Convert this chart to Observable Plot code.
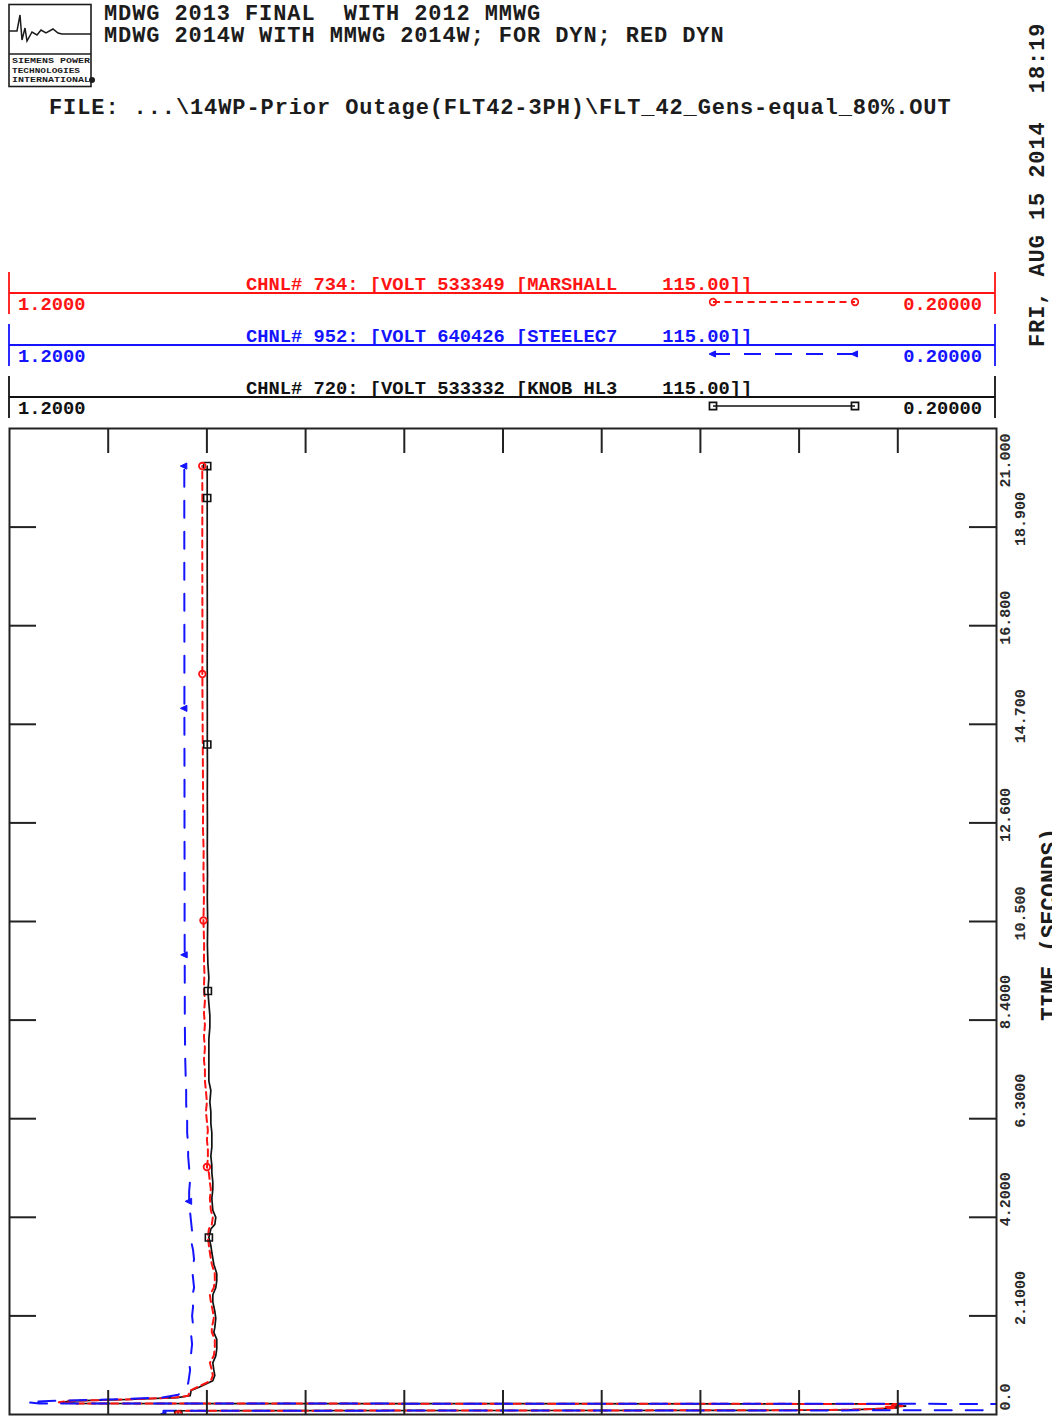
<!DOCTYPE html>
<html><head><meta charset="utf-8">
<script src="https://cdn.jsdelivr.net/npm/d3@7"></script>
<script src="https://cdn.jsdelivr.net/npm/@observablehq/plot@0.6"></script>
<style>
html,body{margin:0;padding:0;width:1052px;height:1416px;overflow:hidden;background:#fff;}
#plot{position:absolute;left:0;top:420px;}
#head{position:absolute;left:0;top:0;}
svg text{white-space:pre;}
</style></head><body>
<div id="plot"></div>
<svg id="head" width="1052" height="428"></svg>
<script>
// ---------------- data ----------------
const TITLE1 = "MDWG 2013 FINAL  WITH 2012 MMWG";
const TITLE2 = "MDWG 2014W WITH MMWG 2014W; FOR DYN; RED DYN";
const FILE_LINE = "FILE: ...\\14WP-Prior Outage(FLT42-3PH)\\FLT_42_Gens-equal_80%.OUT";
const DATE_LINE = "FRI, AUG 15 2014  18:19";
const Y_LABEL = "TIME (SECONDS)";

const channels = ["734", "952", "720"];
const channelText = [
  "CHNL# 734: [VOLT 533349 [MARSHALL    115.00]]",
  "CHNL# 952: [VOLT 640426 [STEELEC7    115.00]]",
  "CHNL# 720: [VOLT 533332 [KNOB HL3    115.00]]"
];
const scaleMaxLabel = "1.2000";
const scaleMinLabel = "0.20000";

const voltTicks = [1.1, 1.0, 0.9, 0.8, 0.7, 0.6, 0.5, 0.4, 0.3];
const timeTicks = [0, 2.1, 4.2, 6.3, 8.4, 10.5, 12.6, 14.7, 16.8, 18.9, 21.0];
const timeLabels = ["0.0", "2.1000", "4.2000", "6.3000", "8.4000", "10.500", "12.600", "14.700", "16.800", "18.900", "21.000"];

// CHNL 720 KNOB HL3 (black, solid)
const blackT = [0, 0.08, 0.09, 0.10, 0.12, 0.14, 0.16, 0.18, 0.20, 0.225, 0.235, 0.26, 0.29, 0.32, 0.36, 0.40, 0.51, 0.58, 0.65, 0.72, 0.83, 0.95, 1.10, 1.25, 1.40, 1.60, 1.75, 1.85, 2.05, 2.20, 2.40, 2.55, 2.70, 2.85, 3.00, 3.20, 3.45, 3.60, 3.77, 3.95, 4.05, 4.20, 4.35, 4.60, 4.80, 4.95, 5.15, 5.30, 5.50, 5.70, 5.85, 6.00, 6.20, 6.45, 6.65, 6.90, 7.10, 7.35, 7.55, 7.75, 8.00, 8.25, 8.50, 8.75, 9.02, 9.30, 9.60, 10.0, 10.5, 11.0, 11.5, 12.0, 12.6, 13.2, 13.8, 14.27, 15.0, 16.0, 17.0, 18.0, 19.0, 19.52, 20.2];
const blackV = [1.029, 1.029, 0.415, 0.350, 0.318, 0.300, 0.310, 0.292, 0.303, 0.296, 1.132, 1.146, 1.138, 1.080, 1.030, 1.017, 1.016, 1.008, 1.001, 0.994, 0.992, 0.993, 0.994, 0.991, 0.990, 0.990, 0.993, 0.992, 0.991, 0.992, 0.994, 0.994, 0.991, 0.990, 0.990, 0.993, 0.995, 0.996, 0.998, 0.996, 0.992, 0.991, 0.994, 0.995, 0.994, 0.994, 0.995, 0.995, 0.996, 0.995, 0.995, 0.995, 0.996, 0.996, 0.997, 0.996, 0.998, 0.998, 0.998, 0.998, 0.998, 0.997, 0.997, 0.998, 0.999, 0.998, 0.999, 0.9995, 0.9992, 0.9996, 0.9994, 0.9996, 0.9995, 0.9996, 0.9995, 0.9996, 0.9996, 0.9997, 0.9996, 0.9997, 0.9997, 0.9997, 0.9997];

// CHNL 734 MARSHALL (red, short dash)
const redT = [0, 0.08, 0.09, 0.10, 0.12, 0.14, 0.16, 0.18, 0.20, 0.225, 0.235, 0.26, 0.29, 0.32, 0.36, 0.40, 0.51, 0.58, 0.65, 0.72, 0.83, 0.95, 1.10, 1.25, 1.40, 1.60, 1.75, 1.85, 2.05, 2.20, 2.40, 2.55, 2.70, 2.85, 3.00, 3.20, 3.45, 3.60, 3.77, 3.95, 4.05, 4.20, 4.35, 4.60, 4.80, 4.95, 5.15, 5.27, 5.45, 5.65, 5.85, 6.05, 6.25, 6.45, 6.65, 6.90, 7.10, 7.35, 7.55, 7.80, 8.05, 8.30, 8.55, 8.80, 9.10, 9.40, 9.70, 10.0, 10.52, 11.0, 11.5, 12.0, 12.5, 13.0, 13.6, 14.3, 15.0, 15.77, 16.5, 17.5, 18.5, 19.5, 20.2];
const redV = [1.029, 1.029, 0.420, 0.352, 0.322, 0.302, 0.314, 0.295, 0.306, 0.298, 1.135, 1.150, 1.141, 1.083, 1.033, 1.019, 1.017, 1.010, 1.003, 0.996, 0.994, 0.995, 0.997, 0.993, 0.992, 0.992, 0.995, 0.995, 0.993, 0.994, 0.996, 0.997, 0.993, 0.992, 0.992, 0.995, 0.997, 0.998, 0.999, 0.998, 0.995, 0.994, 0.996, 0.997, 0.996, 0.997, 0.998, 1.000, 0.999, 0.999, 1.000, 0.999, 1.000, 1.001, 1.000, 1.001, 1.002, 1.002, 1.003, 1.002, 1.003, 1.002, 1.003, 1.002, 1.003, 1.0025, 1.003, 1.0028, 1.0035, 1.003, 1.0035, 1.0033, 1.004, 1.0038, 1.004, 1.0042, 1.0044, 1.0046, 1.0045, 1.0046, 1.0047, 1.0046, 1.0047];

// CHNL 952 STEELEC7 (blue, long dash)
const blueT = [0, 0.08, 0.09, 0.11, 0.14, 0.17, 0.20, 0.225, 0.235, 0.26, 0.29, 0.32, 0.36, 0.42, 0.50, 0.58, 0.66, 0.80, 0.95, 1.10, 1.30, 1.50, 1.70, 1.90, 2.10, 2.30, 2.50, 2.70, 2.90, 3.10, 3.30, 3.50, 3.70, 3.90, 4.10, 4.30, 4.54, 4.75, 5.00, 5.25, 5.50, 5.75, 6.00, 6.30, 6.60, 6.90, 7.20, 7.60, 8.00, 8.50, 9.00, 9.79, 10.5, 11.5, 12.5, 13.5, 15.04, 16.5, 18.0, 19.5, 20.2];
const blueV = [1.044, 1.044, 0.160, 0.120, 0.110, 0.125, 0.115, 0.120, 1.170, 1.182, 1.160, 1.100, 1.045, 1.029, 1.025, 1.022, 1.019, 1.018, 1.017, 1.018, 1.016, 1.015, 1.016, 1.014, 1.015, 1.014, 1.015, 1.013, 1.014, 1.015, 1.013, 1.014, 1.016, 1.015, 1.016, 1.017, 1.018, 1.018, 1.017, 1.018, 1.019, 1.019, 1.020, 1.020, 1.021, 1.021, 1.0215, 1.022, 1.0222, 1.0224, 1.0224, 1.0225, 1.0226, 1.0226, 1.0227, 1.0227, 1.0228, 1.0228, 1.0229, 1.0229, 1.0229];

// symbol markers placed along each curve
const redMarkT = [0, 5.27, 10.52, 15.77, 20.2];
const redMarkV = [1.029, 1.000, 1.0035, 1.0046, 1.0047];
const blackMarkT = [0, 3.77, 9.02, 14.27, 19.52, 20.2];
const blackMarkV = [1.029, 0.998, 0.999, 0.9996, 0.9997, 0.9997];
const blueMarkT = [0, 4.54, 9.79, 15.04, 20.2];
const blueMarkV = [1.044, 1.018, 1.0225, 1.0228, 1.0229];

// ---------------- styles ----------------
const RED = "#ff1414", BLUE = "#1414ff", BLACK = "#111";
const INK = "#1c1c1c";
const FONT = "'Liberation Mono', 'DejaVu Sans Mono', monospace";
const RED_DASH = "7,4.5", BLUE_DASH = "17,14";

const rows = (T, V) => T.map((t, i) => ({t, v: V[i]}));

const triLeft = {
  draw(ctx, size) {
    const s = Math.sqrt(size / Math.PI);
    ctx.moveTo(-s * 1.1, 0);
    ctx.lineTo(s * 0.7, -s * 0.85);
    ctx.lineTo(s * 0.7, s * 0.85);
    ctx.closePath();
  }
};

// ---------------- plot ----------------
const labelRows = timeTicks.map((t, i) => ({t, label: timeLabels[i], i}));
const interiorTime = timeTicks.slice(1, -1);
const textStyle = {fontFamily: FONT, fontSize: 15, fontWeight: "bold", fill: "#2a2a2a", rotate: -90, lineAnchor: "middle", frameAnchor: "right"};
function labelMark(filter, dx, dy, anchor) {
  return Plot.text(labelRows.filter(filter), {y: "t", text: "label", dx, dy, textAnchor: anchor, ...textStyle});
}
const last = timeTicks.length - 1;

const chart = Plot.plot({
  width: 1052, height: 996,
  marginTop: 8, marginBottom: 2, marginLeft: 9, marginRight: 56,
  x: {domain: [1.2, 0.2], axis: null},
  y: {domain: [0, 21], axis: null},
  style: {background: "transparent", overflow: "visible"},
  marks: [
    Plot.line(rows(blackT, blackV), {x: "v", y: "t", stroke: BLACK, strokeWidth: 1.7, clip: true}),
    Plot.line(rows(redT, redV), {x: "v", y: "t", stroke: RED, strokeWidth: 2, strokeDasharray: RED_DASH, clip: true}),
    Plot.line(rows(blueT, blueV), {x: "v", y: "t", stroke: BLUE, strokeWidth: 2, strokeDasharray: BLUE_DASH, clip: true}),
    Plot.dot(rows(blackMarkT, blackMarkV), {x: "v", y: "t", symbol: "square", r: 4, stroke: BLACK, strokeWidth: 1.6, fill: "none", clip: true}),
    Plot.dot(rows(redMarkT, redMarkV), {x: "v", y: "t", symbol: "circle", r: 3.3, stroke: RED, strokeWidth: 1.8, fill: "none", clip: true}),
    Plot.dot(rows(blueMarkT, blueMarkV), {x: "v", y: "t", symbol: triLeft, r: 3.6, stroke: BLUE, strokeWidth: 1, fill: BLUE, clip: true}),
    Plot.frame({stroke: "#222", strokeWidth: 2}),
    Plot.tickX(voltTicks, {x: d => d, insetBottom: 961, stroke: "#222", strokeWidth: 2}),
    Plot.tickX(voltTicks, {x: d => d, insetTop: 962, stroke: "#222", strokeWidth: 2}),
    Plot.tickY(interiorTime, {y: d => d, insetRight: 960, stroke: "#222", strokeWidth: 2}),
    Plot.tickY(interiorTime, {y: d => d, insetLeft: 960, stroke: "#222", strokeWidth: 2}),
    labelMark(d => d.i === 0, 9, -4, "start"),
    labelMark(d => d.i === last, 9, 5, "end"),
    labelMark(d => d.i > 0 && d.i < last && d.i % 2 === 0 && d.label.indexOf(".") === 1, 9, 9, "start"),
    labelMark(d => d.i > 0 && d.i < last && d.i % 2 === 1 && d.label.indexOf(".") === 1, 24, 9, "start"),
    labelMark(d => d.i > 0 && d.i < last && d.i % 2 === 0 && d.label.indexOf(".") === 2, 9, 19, "start"),
    labelMark(d => d.i > 0 && d.i < last && d.i % 2 === 1 && d.label.indexOf(".") === 2, 24, 19, "start"),
    Plot.text([Y_LABEL], {text: d => d, frameAnchor: "right", dx: 53, dy: 3, rotate: -90, lineAnchor: "middle", textAnchor: "middle", fontFamily: FONT, fontSize: 23, fontWeight: "bold", fill: INK})
  ]
});
document.getElementById("plot").appendChild(chart);

// ---------------- header & channel legend ----------------
const head = d3.select("#head");
// logo
const logo = head.append("g");
logo.append("rect").attr("x", 9).attr("y", 4.5).attr("width", 82).attr("height", 82).attr("fill", "none").attr("stroke", INK).attr("stroke-width", 1.6);
logo.append("line").attr("x1", 9).attr("x2", 91).attr("y1", 54).attr("y2", 54).attr("stroke", INK).attr("stroke-width", 1.4);
const wave = [[9,31],[17,31],[20,15],[22,40],[25,28],[27,41],[32,32],[37,35],[41,30],[46,33],[53,29],[58,33],[62,34],[91,34]];
logo.append("path").attr("d", d3.line()(wave)).attr("fill", "none").attr("stroke", INK).attr("stroke-width", 1.5);
["SIEMENS POWER", "TECHNOLOGIES", "INTERNATIONAL"].forEach((s, i) => {
  logo.append("text").attr("x", 12).attr("y", 63 + i * 9.5).attr("font-family", FONT).attr("font-size", 7).attr("font-weight", "bold")
    .attr("textLength", i === 1 ? 68 : 78).attr("lengthAdjust", "spacingAndGlyphs").attr("fill", INK).text(s);
});
logo.append("circle").attr("cx", 92).attr("cy", 80).attr("r", 3).attr("fill", INK);

const T = (x, y, s, size, fill, anchor, ls) => head.append("text").attr("x", x).attr("y", y)
  .attr("font-family", FONT).attr("font-size", size).attr("font-weight", "bold")
  .attr("letter-spacing", ls || 0)
  .attr("fill", fill).attr("text-anchor", anchor || "start").text(s);
T(104, 20, TITLE1, 22, INK, "start", 0.9);
T(104, 42, TITLE2, 22, INK, "start", 0.9);
T(49, 114, FILE_LINE, 22, INK, "start", 0.9);
head.append("text").attr("transform", "translate(1037,347) rotate(-90)").attr("dy", "0.32em")
  .attr("font-family", FONT).attr("font-size", 22).attr("letter-spacing", 0.9).attr("font-weight", "bold").attr("fill", INK).text(DATE_LINE);

const legendColors = [RED, BLUE, BLACK];
const legendDash = [RED_DASH, BLUE_DASH, null];
const legendSymbols = [d3.symbolCircle, triLeft, d3.symbolSquare];
channels.forEach((c, k) => {
  const y0 = 293 + k * 52;
  const col = legendColors[k];
  const g = head.append("g");
  g.append("line").attr("x1", 9).attr("x2", 995).attr("y1", y0).attr("y2", y0).attr("stroke", col).attr("stroke-width", 1.8);
  [9, 995].forEach(x => g.append("line").attr("x1", x).attr("x2", x).attr("y1", y0 - 21).attr("y2", y0 + 21).attr("stroke", col).attr("stroke-width", 1.8));
  T(246, y0 - 3, channelText[k], 18.75, col);
  T(18, y0 + 17, scaleMaxLabel, 18.75, col);
  T(982, y0 + 17, scaleMinLabel, 18.75, col, "end");
  const ys = y0 + 9;
  g.append("line").attr("x1", 713).attr("x2", 855).attr("y1", ys).attr("y2", ys).attr("stroke", col)
    .attr("stroke-width", k === 2 ? 1.6 : 2).attr("stroke-dasharray", legendDash[k]);
  [713, 855].forEach(x => {
    const r = k === 0 ? 3.3 : (k === 1 ? 3.6 : 4);
    g.append("path").attr("transform", `translate(${x},${ys})`)
      .attr("d", d3.symbol(legendSymbols[k], r * r * Math.PI)())
      .attr("fill", k === 1 ? col : "none").attr("stroke", col).attr("stroke-width", k === 1 ? 1 : 1.7);
  });
});
</script></body></html>
